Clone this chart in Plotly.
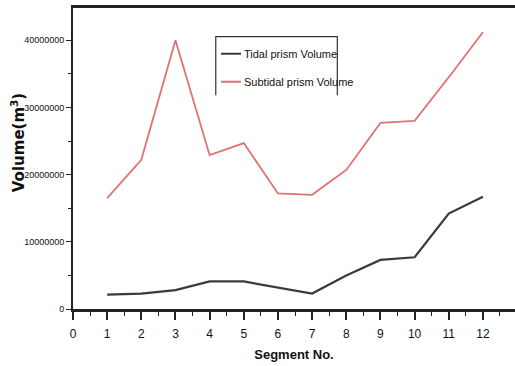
import plotly.graph_objects as go

# Segment numbers along the estuary
segments = [1, 2, 3, 4, 5, 6, 7, 8, 9, 10, 11, 12]

# Prism volumes per segment (m^3)
tidal_volume = [2150000, 2300000, 2800000, 4100000, 4100000, 3200000,
                2300000, 5000000, 7300000, 7700000, 14200000, 16700000]
subtidal_volume = [16500000, 22200000, 40000000, 22900000, 24700000, 17200000,
                   17000000, 20700000, 27700000, 28000000, 34500000, 41200000]

series_names = ["Tidal prism Volume", "Subtidal prism Volume"]
series_colors = ["#3a3a3a", "#e07272"]

x_ticks = list(range(0, 14))
y_ticks = [0, 10000000, 20000000, 30000000, 40000000]

sans = "Liberation Sans, Arial, sans-serif"

fig = go.Figure()
for name, vals, color, w in zip(series_names, [tidal_volume, subtidal_volume],
                                series_colors, [2.2, 1.8]):
    fig.add_trace(go.Scatter(x=segments, y=vals, mode="lines", name=name,
                             line=dict(color=color, width=w), showlegend=False))

# Key box (open at the bottom) with short line samples
box_l, box_r, box_t, box_b = 0.323, 0.598, 0.905, 0.71
fig.add_shape(type="path", xref="paper", yref="paper",
              path=f"M {box_l} {box_b} L {box_l} {box_t} L {box_r} {box_t} L {box_r} {box_b}",
              line=dict(color="#333", width=1.2))
for i, (name, color) in enumerate(zip(series_names, series_colors)):
    yk = 0.848 - i * 0.093
    fig.add_shape(type="line", xref="paper", yref="paper",
                  x0=0.335, x1=0.380, y0=yk, y1=yk,
                  line=dict(color=color, width=2))
    fig.add_annotation(xref="paper", yref="paper", x=0.383, y=yk,
                       xanchor="left", yanchor="middle", showarrow=False,
                       text=name, font=dict(family=sans, size=11, color="#111"))

# Y-axis title placed as an annotation so it can sit close to the tick labels
fig.add_annotation(xref="paper", yref="paper", x=-0.1244, y=0.551,
                   xanchor="center", yanchor="middle", showarrow=False, textangle=-90,
                   text="<b>Volume(m<sup>3</sup>)</b>",
                   font=dict(family="DejaVu Sans, Verdana, sans-serif", size=15, color="#111"))

fig.update_layout(
    width=515, height=366,
    margin=dict(l=73, r=0, t=8, b=57),
    paper_bgcolor="white", plot_bgcolor="white",
    showlegend=False,
    font=dict(family=sans, color="#111"),
)

fig.update_xaxes(
    range=[0, 12.94], tickvals=x_ticks, ticktext=[str(v) for v in x_ticks],
    showgrid=False, zeroline=False,
    showline=True, linecolor="#222", linewidth=2.5, mirror=True,
    ticks="outside", ticklen=8, tickwidth=1.5, tickcolor="#222",
    minor=dict(dtick=0.5, ticks="outside", ticklen=4, tickwidth=1.2, tickcolor="#222"),
    tickfont=dict(family=sans, size=12, color="#111"),
    ticklabelstandoff=4,
    title=dict(text="<b>Segment No.</b>", font=dict(family=sans, size=13, color="#111"), standoff=10),
)
fig.update_yaxes(
    range=[0, 44800000], tickvals=y_ticks, ticktext=[str(v) for v in y_ticks],
    showgrid=False, zeroline=False,
    showline=True, linecolor="#222", linewidth=2, mirror=False,
    ticks="outside", ticklen=5, tickwidth=1.2, tickcolor="#222",
    minor=dict(dtick=5000000, ticks="outside", ticklen=3, tickwidth=1.2, tickcolor="#222"),
    tickfont=dict(family=sans, size=9, color="#111"),
)

fig.write_html("out.html")
